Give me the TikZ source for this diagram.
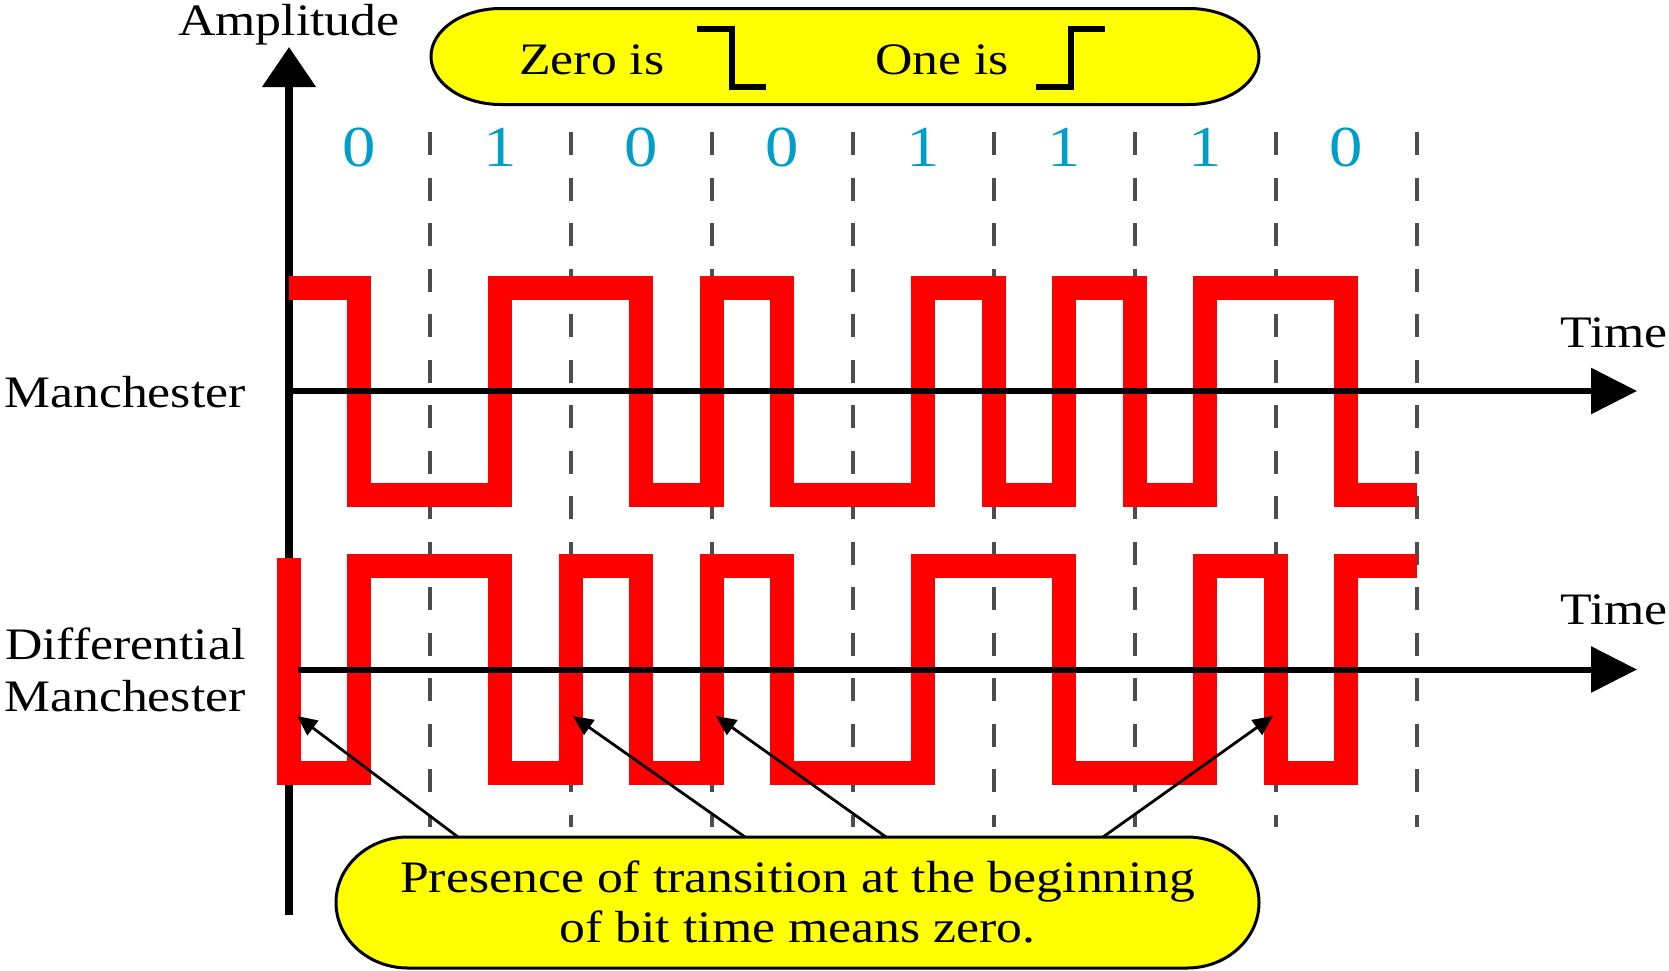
\documentclass[tikz,border=0pt]{standalone}
\usepackage{fontspec}
\setmainfont{Liberation Serif}[FakeStretch=1.15]
\usetikzlibrary{arrows.meta}
\definecolor{bit-blue}{RGB}{0,158,200}
\definecolor{wave-red}{RGB}{255,0,0}
\definecolor{note-yellow}{RGB}{255,255,0}
\definecolor{grid-gray}{RGB}{77,77,77}
\tikzset{
  wave/.style={draw=wave-red, line width=24pt},
  grid/.style={draw=grid-gray, line width=4pt, dash pattern=on 23pt off 22.5pt},
  notebox/.style={draw=black, fill=note-yellow, line width=3pt},
  lbl/.style={font=\fontsize{45}{50}\selectfont, inner sep=0pt},
  bit/.style={text=bit-blue, font=\fontsize{58}{60}\selectfont, inner sep=0pt, anchor=base},
}

\begin{document}
\begin{tikzpicture}[
  x=1pt, y=-1pt,
  axis/.style={draw=black, line width=6pt, -{Triangle[length=46pt,width=45pt]}},
  pointer/.style={draw=black, line width=2.8pt, -{Triangle[length=20pt,width=18pt]}}]
  \pgfmathsetmacro{\bw}{141}
  \pgfmathsetmacro{\xo}{288.5}
  \useasboundingbox (0,0) rectangle (1669,970);

  % bit slots
  \foreach \k in {1,...,8} {
    \draw[grid] ({\xo+\k*\bw}, 132) -- ({\xo+\k*\bw}, 827);
  }
  \foreach \b [count=\i from 0] in {0,1,0,0,1,1,1,0} {
    \node[bit] (b-\i) at ({\xo+(\i+0.5)*\bw}, 166) {\b};
  }

  % amplitude axis
  \coordinate (amp-0) at (289, 915);
  \coordinate (amp-1) at (289, 47);
  \draw[line width=8pt, -{Triangle[length=40pt,width=52pt]}] (amp-0) -- (amp-1);
  \node[lbl, anchor=base] (amp-lbl) at (289, 35) {Amplitude};

  % signals
  \draw[wave] (\xo, 287.5) \foreach \l [count=\i] in {1,0,0,1,1,0,1,0,0,1,0,1,0,1,1,0} {
    |- ({\xo+\i*\bw/2}, {495-\l*207.5}) };
  \draw[wave] (\xo, 558) \foreach \l [count=\i] in {0,1,1,0,1,0,1,0,0,1,1,0,0,1,0,1} {
    |- ({\xo+\i*\bw/2}, {773-\l*207}) };

  % time axes
  \coordinate (m-0) at (289, 391);
  \coordinate (m-1) at (1637, 391);
  \coordinate (dm-0) at (298, 669.5);
  \coordinate (dm-1) at (1637, 669.5);
  \draw[axis] (m-0) -- (m-1);
  \draw[axis] (dm-0) -- (dm-1);
  \node[lbl, anchor=base west] (m-time) at (1560, 347) {Time};
  \node[lbl, anchor=base west] (dm-time) at (1560, 624) {Time};
  \node[lbl, anchor=base west] (m-lbl) at (4, 407) {Manchester};
  \node[lbl, anchor=base west] (dm-lbl1) at (5, 659) {Differential};
  \node[lbl, anchor=base west] (dm-lbl2) at (4, 711) {Manchester};

  % legend
  \draw[notebox] (501, 8.5) -- (1189, 8.5)
    arc[start angle=-90, end angle=90, x radius=70, y radius=48] -- (501, 104.5)
    arc[start angle=90, end angle=270, x radius=70, y radius=48] -- cycle;
  \node[lbl, anchor=base west] (zero-lbl) at (519, 74) {Zero is};
  \node[lbl, anchor=base west] (one-lbl) at (875, 74) {One is};
  \draw[line width=6pt] (697, 29) -- (732, 29) -- (732, 87) -- (766, 87);
  \draw[line width=6pt] (1036, 87) -- (1071, 87) -- (1071, 29) -- (1105, 29);

  % note
  \draw[notebox] (408, 837) -- (1187, 837)
    arc[start angle=-90, end angle=90, x radius=72, y radius=65.5] -- (408, 968)
    arc[start angle=90, end angle=270, x radius=72, y radius=65.5] -- cycle;
  \node[lbl, align=center] (note) at (797.5, 902) {Presence of transition at the beginning\\of bit time means zero.};
  \foreach \s/\t [count=\i] in {458/297, 745/573, 886/716, 1103/1273} {
    \coordinate (src-\i) at (\s, 837);
    \coordinate (tip-\i) at (\t, 716);
    \draw[pointer] (src-\i) -- (tip-\i);
  }
\end{tikzpicture}
\end{document}
